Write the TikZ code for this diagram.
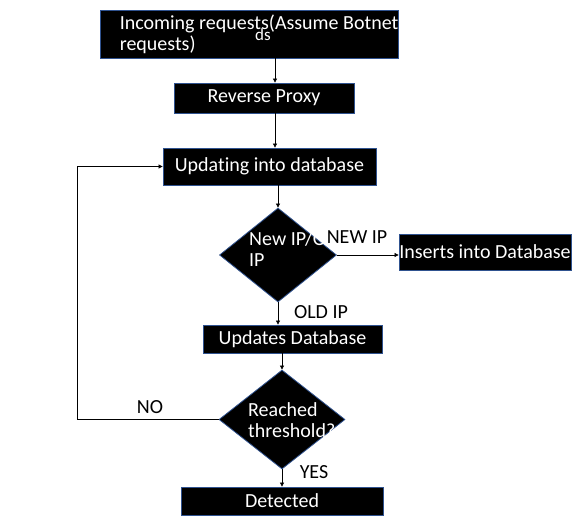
\documentclass[tikz,border=0pt]{standalone}
\usepackage{fontspec}
\setmainfont[Ligatures=NoCommon]{Carlito}
\usetikzlibrary{arrows.meta, shapes.geometric}
\definecolor{blkedge}{HTML}{2F528F}

\begin{document}
\begin{tikzpicture}[x=1pt, y=-1pt, font=\fontsize{20}{21}\selectfont,
     blk/.style={draw=blkedge, line width=0.8pt, fill=black, text=white, inner sep=0pt},
     dec/.style={diamond, draw=blkedge, line width=0.8pt, fill=black, inner sep=0pt},
     txt/.style={text=white, inner sep=0pt, align=left},
     lbl/.style={inner sep=1pt},
     a/.style={-{Triangle[length=4pt, width=4pt]}, line width=0.7pt}]
    \useasboundingbox (0,0) rectangle (581,518);
    % boxes
    \node[blk, minimum width=298pt, minimum height=48pt] (inc) at (249,34) {};
    \node[txt, anchor=west] (inctxt) at ([xshift=20pt]inc.west) {Incoming requests(Assume Botnet\\requests)};
    \node[txt, font=\fontsize{17}{19}\selectfont] (incds) at (263,35) {ds};
    \node[blk, minimum width=180pt, minimum height=30pt] (rp) at (264,98) {Reverse Proxy};
    \node[blk, minimum width=213pt, minimum height=37pt] (upd) at (269.5,166.5) {Updating into database};
    \node[dec, minimum width=117pt, minimum height=94pt] (d1) at (278,255) {};
    \node[txt, anchor=west] (d1txt) at (249,249) {New IP/Old\\IP};
    \node[blk, minimum width=172pt, minimum height=36pt] (ins) at (485,252) {Inserts into Database};
    \node[blk, minimum width=179pt, minimum height=28pt] (upd2) at (292.5,339) {Updates Database};
    \node[dec, minimum width=126pt, minimum height=99pt] (d2) at (282,419.5) {};
    \node[txt, anchor=west] (d2txt) at (248,420) {Reached\\threshold?};
    \node[blk, minimum width=202pt, minimum height=28pt] (det) at (282,501) {Detected};
    % connectors
    \draw[a] ([xshift=26pt]inc.south) -- ([xshift=26pt]inc.south |- rp.north);
    \draw[a] ([xshift=11pt]rp.south) -- ([xshift=11pt]rp.south |- upd.north);
    \draw[a] (d1.north |- upd.south) -- (d1.north);
    \draw[a] (d1.east) -- (d1.east -| ins.west);
    \draw[a] (d1.south) -- (d1.south |- upd2.north);
    \draw[a] (d2.north |- upd2.south) -- (d2.north);
    \draw[a] (d2.south) -- (det.north);
    \draw[a] (d2.west) -| ([xshift=-85pt]upd.west) -- (upd.west);
    % labels
    \node[lbl, fill=white] (newip) at (357,237) {NEW IP};
    \node[lbl] (oldip) at (321,312) {OLD IP};
    \node[lbl] (no) at (150,407) {NO};
    \node[lbl] (yes) at (314,472) {YES};
  \end{tikzpicture}
\end{document}
